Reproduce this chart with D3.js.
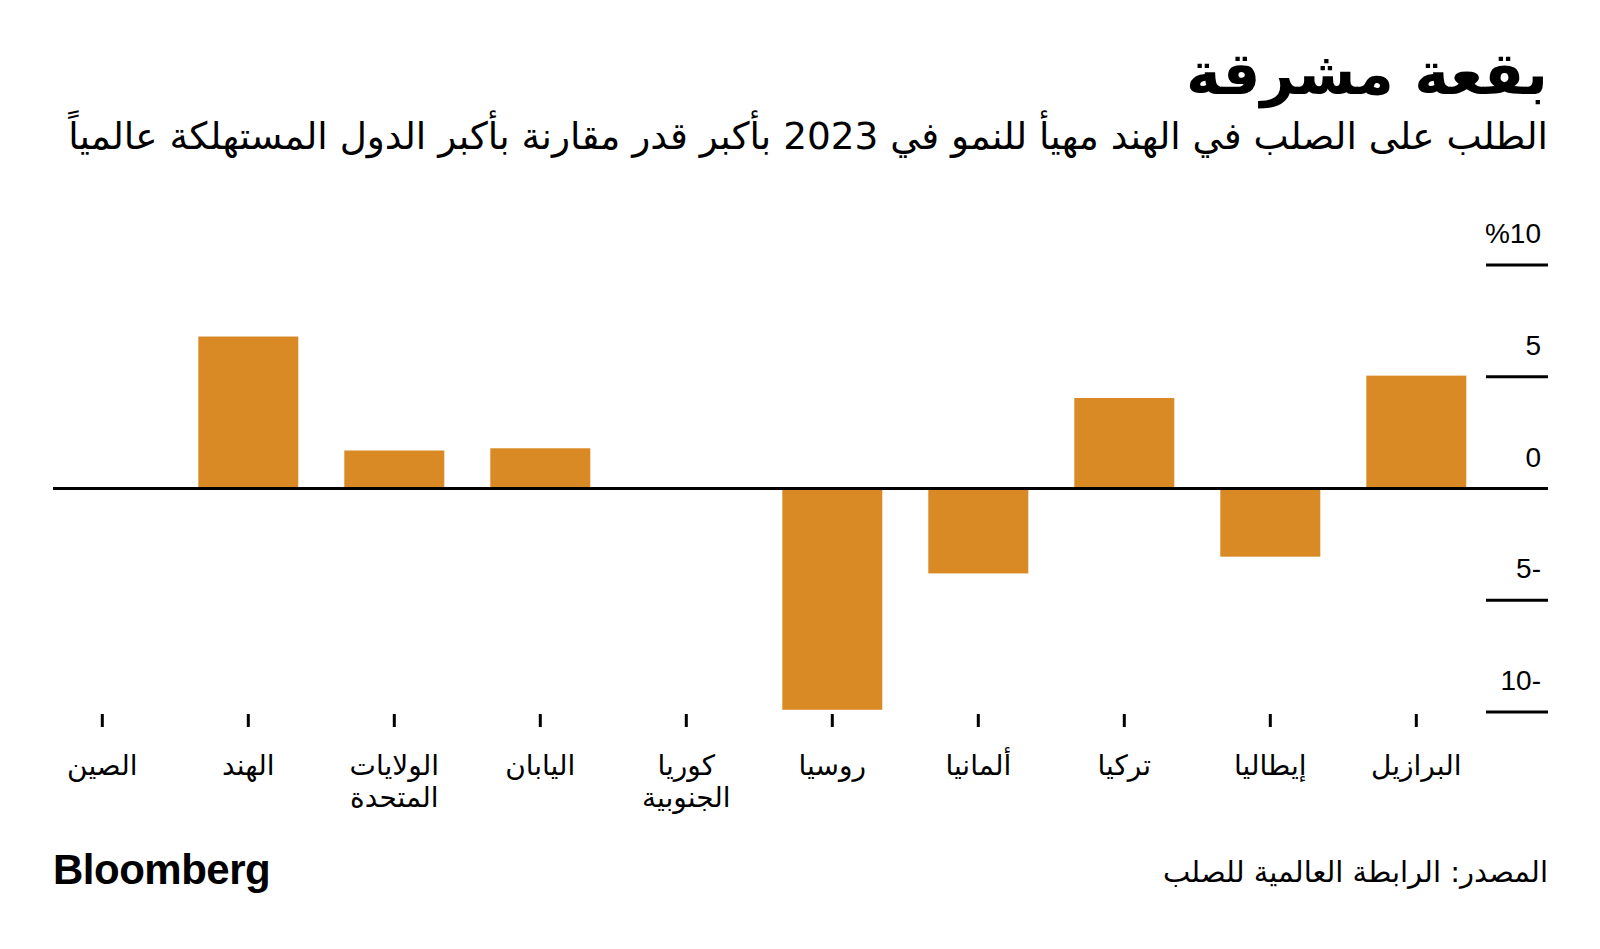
<!DOCTYPE html>
<html>
<head>
<meta charset="utf-8">
<script src="https://cdn.jsdelivr.net/npm/d3@7"></script>
<style>
  html, body { margin: 0; padding: 0; background: #fff; }
  svg { display: block; }
</style>
</head>
<body>
<svg id="chart" width="1600" height="949"></svg>
<script>
const categories = [
  ["الصين"],
  ["الهند"],
  ["الولايات", "المتحدة"],
  ["اليابان"],
  ["كوريا", "الجنوبية"],
  ["روسيا"],
  ["ألمانيا"],
  ["تركيا"],
  ["إيطاليا"],
  ["البرازيل"]
];
const values = [0, 6.8, 1.7, 1.8, 0, -9.9, -3.8, 4.05, -3.05, 5.05];
const yTicks = [10, 5, 0, -5, -10];
const yTickLabels = ["%10", "5", "0", "5-", "10-"];

const title = "بقعة مشرقة";
const subtitle = "الطلب على الصلب في الهند مهيأ للنمو في 2023 بأكبر قدر مقارنة بأكبر الدول المستهلكة عالمياً";
const source = "المصدر: الرابطة العالمية للصلب";

const arFont = "'DejaVu Sans', 'Noto Sans', sans-serif";
const numFont = "'Liberation Sans', Arial, Helvetica, sans-serif";
const barColor = "#DA8A25";

const svg = d3.select("#chart");

const x = d3.scaleBand()
  .domain(d3.range(categories.length))
  .range([29.3, 1489.3])
  .paddingInner(0.315)
  .paddingOuter(0.1575);

const y = d3.scaleLinear().domain([-10, 10]).range([712, 265]);

const RIGHT = 1548;

// Title & subtitle
svg.append("text")
  .attr("x", RIGHT).attr("y", 94)
  .attr("direction", "rtl")
  .attr("text-anchor", "start")
  .attr("font-family", arFont)
  .attr("font-weight", "bold")
  .attr("font-size", 59)
  .attr("fill", "#000")
  .text(title);

svg.append("text")
  .attr("x", RIGHT).attr("y", 149)
  .attr("direction", "rtl")
  .attr("text-anchor", "start")
  .attr("font-family", arFont)
  .attr("font-size", 37.4)
  .attr("fill", "#000")
  .text(subtitle);

// Y gridline stubs and labels
const yg = svg.append("g");
yg.selectAll("line.grid")
  .data(yTicks.filter(d => d !== 0))
  .join("line")
  .attr("class", "grid")
  .attr("x1", 1486).attr("x2", RIGHT)
  .attr("y1", d => y(d)).attr("y2", d => y(d))
  .attr("stroke", "#000").attr("stroke-width", 3);

yg.selectAll("text")
  .data(yTicks)
  .join("text")
  .attr("x", 1541)
  .attr("y", d => y(d) - 22)
  .attr("text-anchor", "end")
  .attr("font-family", numFont)
  .attr("font-size", 28)
  .attr("fill", "#000")
  .text((d, i) => yTickLabels[i]);

// Bars
svg.append("g").selectAll("rect")
  .data(values)
  .join("rect")
  .attr("x", (d, i) => x(i))
  .attr("width", x.bandwidth())
  .attr("y", d => y(Math.max(0, d)))
  .attr("height", d => Math.abs(y(d) - y(0)))
  .attr("fill", barColor);

// Zero line
svg.append("line")
  .attr("x1", 53).attr("x2", RIGHT)
  .attr("y1", y(0)).attr("y2", y(0))
  .attr("stroke", "#000").attr("stroke-width", 3);

// X ticks
const xg = svg.append("g");
xg.selectAll("line")
  .data(categories)
  .join("line")
  .attr("x1", (d, i) => x(i) + x.bandwidth() / 2)
  .attr("x2", (d, i) => x(i) + x.bandwidth() / 2)
  .attr("y1", 714).attr("y2", 727)
  .attr("stroke", "#000").attr("stroke-width", 3);

const labels = xg.selectAll("text")
  .data(categories)
  .join("text")
  .attr("x", (d, i) => x(i) + x.bandwidth() / 2)
  .attr("y", 775)
  .attr("text-anchor", "middle")
  .attr("direction", "rtl")
  .attr("font-family", arFont)
  .attr("font-size", 28)
  .attr("fill", "#000");
labels.each(function(d, i) {
  const t = d3.select(this);
  d.forEach((line, j) => {
    t.append("tspan")
      .attr("x", x(i) + x.bandwidth() / 2)
      .attr("dy", j === 0 ? 0 : 32)
      .text(line);
  });
});

// Footer
svg.append("text")
  .attr("x", 53).attr("y", 884)
  .attr("font-family", numFont)
  .attr("font-weight", "bold")
  .attr("font-size", 42)
  .attr("letter-spacing", -0.5)
  .attr("fill", "#000")
  .text("Bloomberg");

svg.append("text")
  .attr("x", RIGHT).attr("y", 882)
  .attr("direction", "rtl")
  .attr("text-anchor", "start")
  .attr("font-family", arFont)
  .attr("font-size", 29)
  .attr("fill", "#000")
  .text(source);
</script>
</body>
</html>
